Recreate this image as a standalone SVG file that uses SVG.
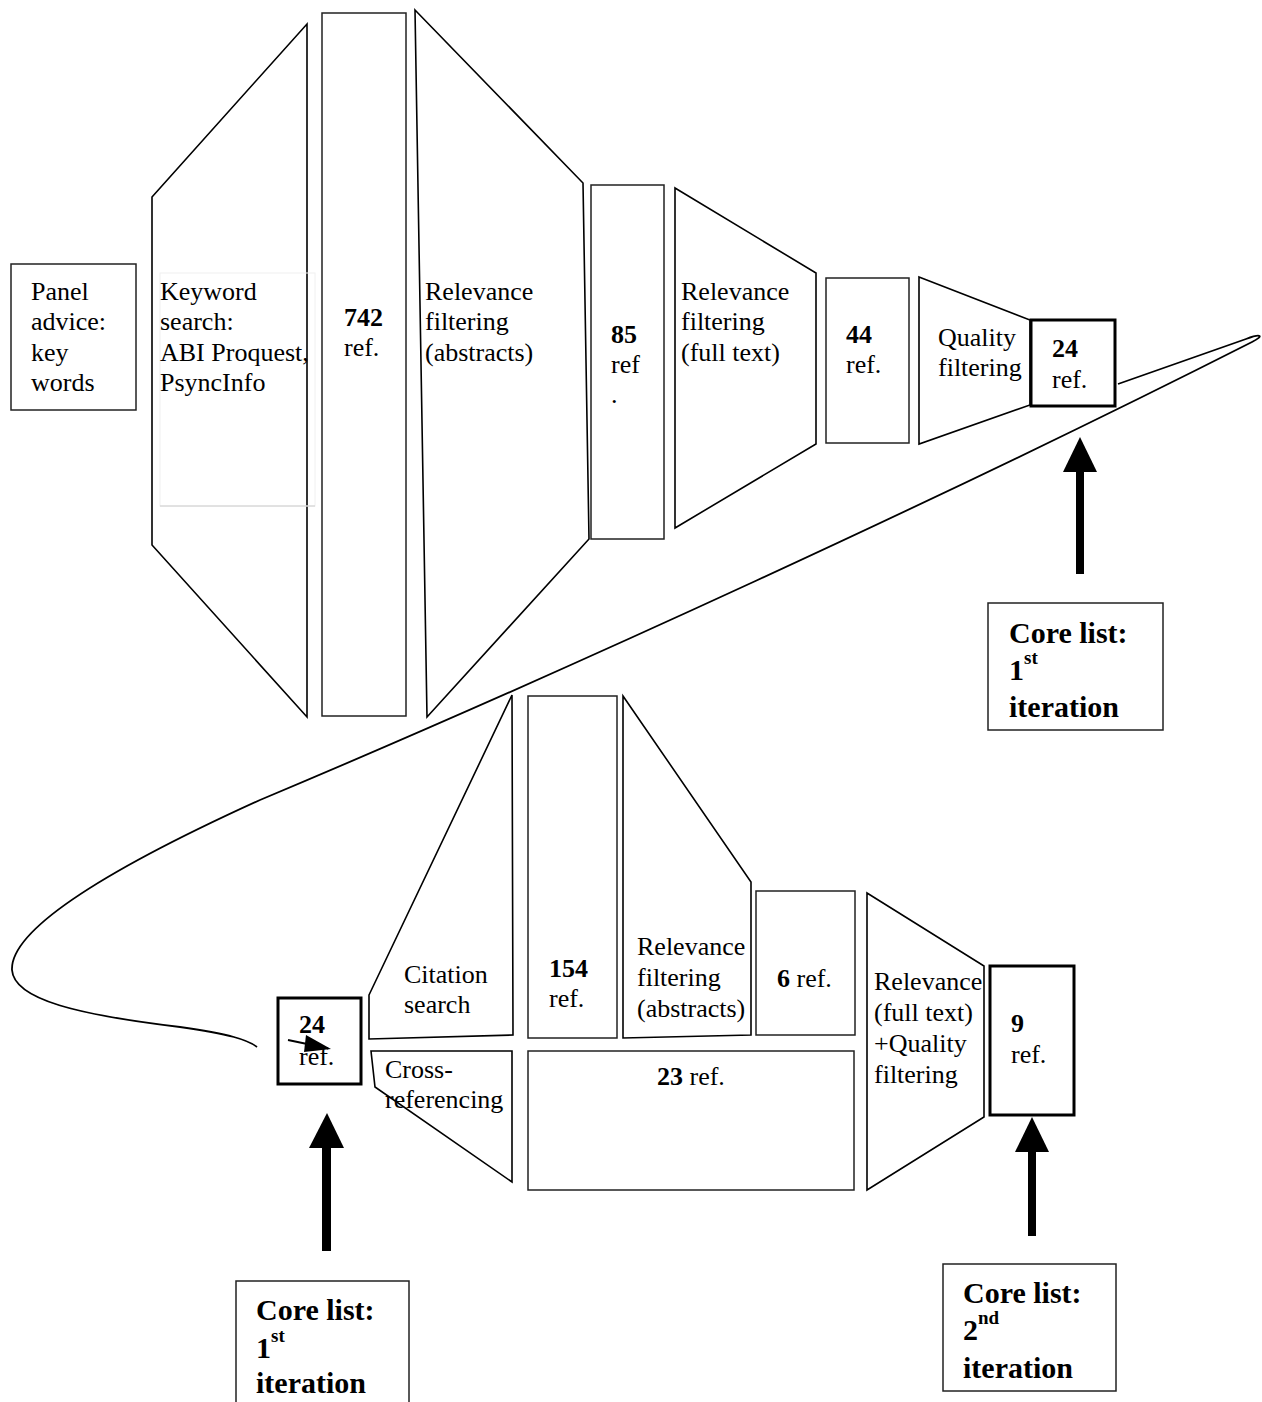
<svg xmlns="http://www.w3.org/2000/svg" width="1262" height="1402" viewBox="0 0 1262 1402">
<style>
text{font-family:"Liberation Serif","Times New Roman",serif;font-size:26px;fill:#000}
.b{font-weight:bold}
.core{font-weight:bold;font-size:30px}
.sup{font-weight:bold;font-size:19px}
.sh{fill:#fff;stroke:#000;stroke-width:1.6}
.bx{fill:#fff;stroke:#222;stroke-width:1.5}
.thick{fill:#fff;stroke:#000;stroke-width:3}
.ln{fill:none;stroke:#000;stroke-width:1.8}
</style>
<rect width="1262" height="1402" fill="#fff"/>

<g id="panel-advice">
<rect class="bx" x="11" y="264" width="125" height="146"/>
<text x="31" y="300">Panel</text><text x="31" y="330">advice:</text><text x="31" y="361">key</text><text x="31" y="391">words</text>
</g>

<g id="keyword-search">
<polygon class="sh" points="152,197 307,24 307,717 152,545"/>
<rect x="160" y="273" width="155" height="233" fill="none" stroke="#f0f0f0" stroke-width="1"/>
<line x1="160" y1="506" x2="315" y2="506" stroke="#cccccc" stroke-width="1"/>
<text x="160" y="300">Keyword</text><text x="160" y="330">search:</text><text x="160" y="361">ABI Proquest,</text><text x="160" y="391">PsyncInfo</text>
</g>

<g id="n742">
<rect class="bx" x="322" y="13" width="84" height="703"/>
<text x="344" y="326" class="b">742</text><text x="344" y="356">ref.</text>
</g>

<g id="relevance-abstracts-1">
<polygon class="sh" points="415,10 583,183 589,539 427,717"/>
<text x="425" y="300">Relevance</text><text x="425" y="330">filtering</text><text x="425" y="361">(abstracts)</text>
</g>

<g id="n85">
<rect class="bx" x="591" y="185" width="73" height="354"/>
<text x="611" y="343" class="b">85</text><text x="611" y="373">ref</text><text x="611" y="403">.</text>
</g>

<g id="relevance-fulltext-1">
<polygon class="sh" points="675,188 816,273 816,444 675,528"/>
<text x="681" y="300">Relevance</text><text x="681" y="330">filtering</text><text x="681" y="361">(full text)</text>
</g>

<g id="n44">
<rect class="bx" x="826" y="278" width="83" height="165"/>
<text x="846" y="343" class="b">44</text><text x="846" y="373">ref.</text>
</g>

<g id="quality-filtering">
<polygon class="sh" points="919,277 1030,320 1030,405 919,444"/>
<text x="938" y="346">Quality</text><text x="938" y="376">filtering</text>
</g>

<g id="n24-top">
<rect class="thick" x="1031" y="320" width="84" height="86"/>
<text x="1052" y="357" class="b">24</text><text x="1052" y="388">ref.</text>
</g>

<g id="core-list-1-top">
<rect class="bx" x="988" y="603" width="175" height="127"/>
<text x="1009" y="643" class="core">Core list:</text>
<text x="1009" y="680" class="core">1</text><text x="1024" y="664" class="sup">st</text>
<text x="1009" y="717" class="core">iteration</text>
</g>

<g id="n24-bottom">
<rect class="thick" x="278" y="998" width="83" height="86"/>
<text x="299" y="1033" class="b">24</text><text x="299" y="1065">ref.</text>
</g>

<g id="citation-search">
<polygon class="sh" points="369,995 512,695 513,1035 369,1039"/>
<text x="404" y="983">Citation</text><text x="404" y="1013">search</text>
</g>

<g id="cross-referencing">
<polygon class="sh" points="371,1051 512,1051 512,1182 375,1087"/>
<text x="385" y="1078">Cross-</text><text x="385" y="1108">referencing</text>
</g>

<g id="n154">
<rect class="bx" x="528" y="696" width="89" height="342"/>
<text x="549" y="977" class="b">154</text><text x="549" y="1007">ref.</text>
</g>

<g id="relevance-abstracts-2">
<polygon class="sh" points="623,696 751,882 751,1035 623,1038"/>
<text x="637" y="955">Relevance</text><text x="637" y="986">filtering</text><text x="637" y="1017">(abstracts)</text>
</g>

<g id="n6">
<rect class="bx" x="756" y="891" width="99" height="144"/>
<text x="777" y="987"><tspan class="b">6</tspan> ref.</text>
</g>

<g id="n23">
<rect class="bx" x="528" y="1051" width="326" height="139"/>
<text x="657" y="1085"><tspan class="b">23</tspan> ref.</text>
</g>

<g id="relevance-quality">
<polygon class="sh" points="867,893 984,966 984,1117 867,1190"/>
<text x="874" y="990">Relevance</text><text x="874" y="1021">(full text)</text><text x="874" y="1052">+Quality</text><text x="874" y="1083">filtering</text>
</g>

<g id="n9">
<rect class="thick" x="990" y="966" width="84" height="149"/>
<text x="1011" y="1032" class="b">9</text><text x="1011" y="1063">ref.</text>
</g>

<g id="core-list-1-bottom">
<rect class="bx" x="236" y="1281" width="173" height="140"/>
<text x="256" y="1320" class="core">Core list:</text>
<text x="256" y="1358" class="core">1</text><text x="271" y="1342" class="sup">st</text>
<text x="256" y="1393" class="core">iteration</text>
</g>

<g id="core-list-2">
<rect class="bx" x="943" y="1264" width="173" height="127"/>
<text x="963" y="1303" class="core">Core list:</text>
<text x="963" y="1340" class="core">2</text><text x="978" y="1324" class="sup">nd</text>
<text x="963" y="1378" class="core">iteration</text>
</g>

<g id="connectors">
<path class="ln" d="M1118,384 L1246,339 C1262,333 1264,336 1252,342 C952,494 560,674 260,800 C130,859 10,925 12,970 C14,1000 80,1015 180,1027 C230,1034 248,1040 257,1047"/>
<line x1="288" y1="1040" x2="312" y2="1045" stroke="#000" stroke-width="1.8"/>
<polygon points="306,1035 331,1049 304,1052" fill="#000"/>
<polygon points="1063,472 1080,437 1097,472" fill="#000"/>
<rect x="1076" y="470" width="8" height="104" fill="#000"/>
<polygon points="309,1148 327,1113 344,1148" fill="#000"/>
<rect x="322" y="1146" width="9" height="105" fill="#000"/>
<polygon points="1015,1152 1032,1117 1049,1152" fill="#000"/>
<rect x="1028" y="1150" width="8" height="86" fill="#000"/>
</g>
</svg>
